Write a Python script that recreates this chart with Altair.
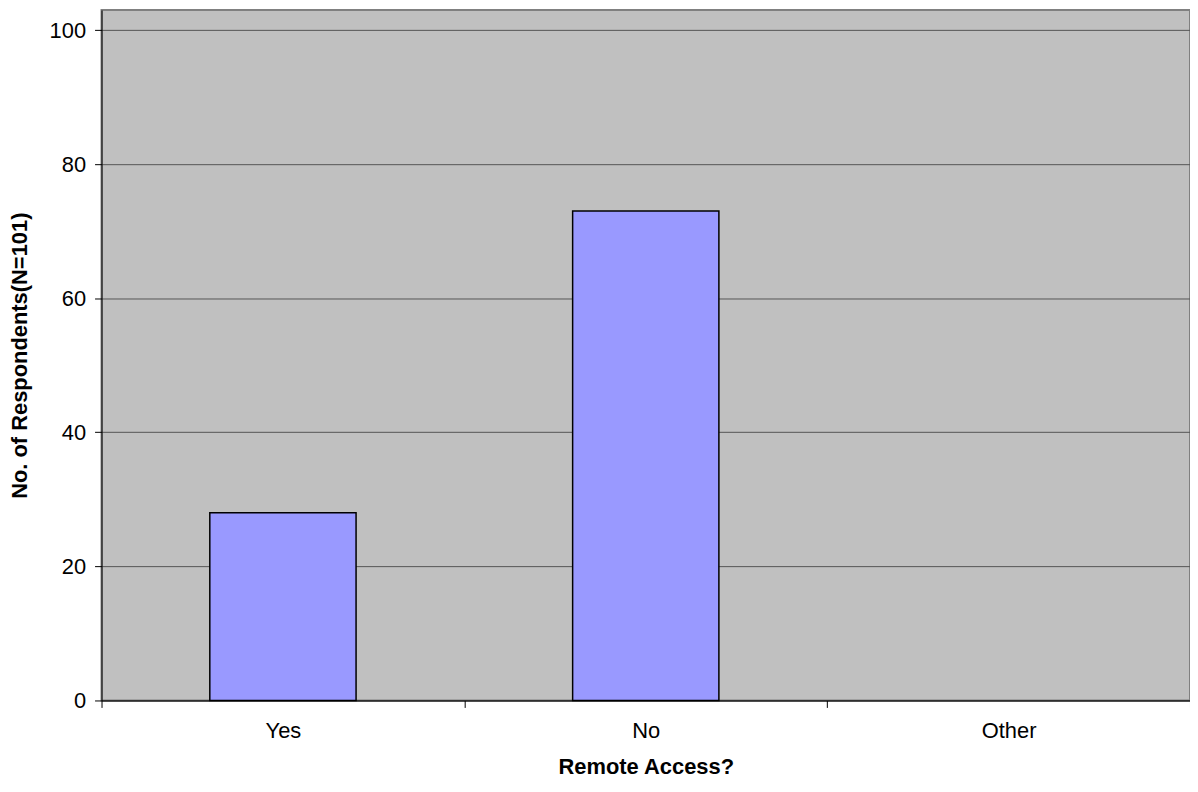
import altair as alt
import pandas as pd

categories = ["Yes", "No", "Other"]
values = [28, 73, 0]
y_ticks = [0, 20, 40, 60, 80, 100]

df = pd.DataFrame({"answer": categories, "count": values})

FONT = "Liberation Sans"
FS = 22

chart = alt.Chart(df).transform_filter(
    "datum.count > 0"
).mark_bar(
    size=147, fill="#9999FF", stroke="#000000", strokeWidth=1.5
).encode(
    x=alt.X("answer:N", sort=categories,
            scale=alt.Scale(domain=categories, paddingInner=0, paddingOuter=0),
            axis=alt.Axis(title="Remote Access?", labelAngle=0, tickBand="extent",
                          domainColor="#000000", tickColor="#000000", tickSize=7,
                          labelPadding=13, labelFontSize=FS, labelFont=FONT,
                          labelColor="#000000", titleFont=FONT, titleFontSize=FS,
                          titleFontWeight="bold", titleColor="#000000",
                          titlePadding=15, grid=False)),
    y=alt.Y("count:Q", scale=alt.Scale(domain=[0, 103], nice=False),
            axis=alt.Axis(title="No. of Respondents(N=101)", values=y_ticks,
                          domainColor="#000000", tickColor="#000000", tickSize=7,
                          labelPadding=9, labelFontSize=FS, labelFont=FONT,
                          labelColor="#000000", titleFont=FONT, titleFontSize=FS,
                          titleFontWeight="bold", titleColor="#000000",
                          titlePadding=18, grid=True, gridColor="#555555",
                          gridWidth=1, gridOpacity=1)),
).properties(
    width=1094, height=694,
    autosize=alt.AutoSizeParams(type="none"),
    padding={"left": 94, "top": 0, "right": 0, "bottom": 84},
).configure_view(
    fill="#C0C0C0", stroke="#808080", strokeWidth=2
)

chart.save("out.html", embed_options={"renderer": "svg", "actions": False})
